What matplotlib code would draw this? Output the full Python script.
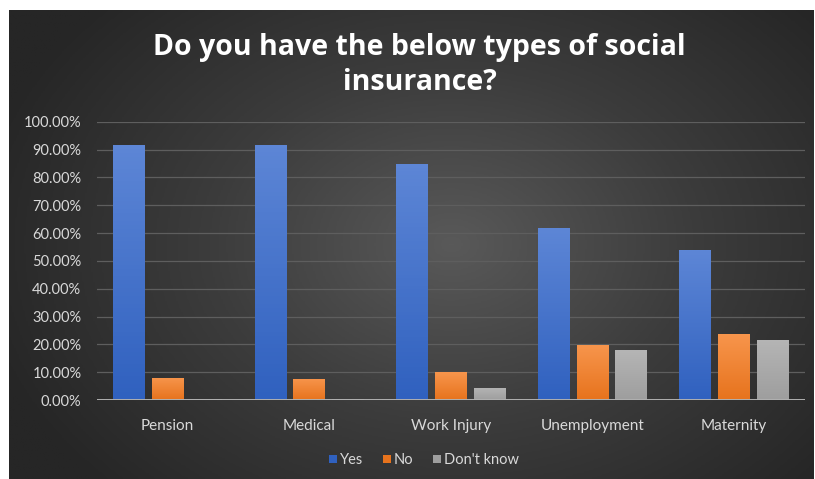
import numpy as np
import matplotlib
matplotlib.use("Agg")
import matplotlib.pyplot as plt
from matplotlib.colors import LinearSegmentedColormap
from matplotlib.lines import Line2D

categories = ["Pension", "Medical", "Work Injury", "Unemployment", "Maternity"]
yes = [91.5, 91.7, 84.7, 61.8, 53.8]
no = [8.0, 7.7, 10.0, 19.7, 23.7]
dont_know = [0.2, 0.2, 4.4, 17.8, 21.6]
series = ["Yes", "No", "Don't know"]
ticks = [0, 10, 20, 30, 40, 50, 60, 70, 80, 90, 100]

W, H = 815, 479
fig = plt.figure(figsize=(W / 100, H / 100), dpi=100)
fig.patch.set_facecolor("white")

# dark radial background panel
bg = fig.add_axes([9 / W, 0, (814 - 9) / W, (H - 10) / H])
bg.set_axis_off()
yy, xx = np.mgrid[0:1:300j, 0:1:500j]
r = np.sqrt(((xx - 0.55) / 0.6) ** 2 + ((yy - 0.5) / 0.75) ** 2)
bg_cmap = LinearSegmentedColormap.from_list("bg", ["#595959", "#3c3c3c", "#262626"])
bg.imshow(np.clip(r, 0, 1), cmap=bg_cmap, aspect="auto", extent=[0, 1, 0, 1])
bg.set_xlim(0, 1); bg.set_ylim(0, 1)

ax = fig.add_axes([96.7 / W, (H - 400) / H, (805 - 96.7) / W, (400 - 121.7) / H])
ax.set_facecolor("none")
ax.set_xlim(-0.5, len(categories) - 0.5)
ax.set_ylim(0, 100)

grads = [("#5d86d6", "#3061bf"), ("#f7954c", "#e7731d"), ("#b5b5b5", "#9e9e9e")]
bw, step = 0.224, 0.274
x = np.arange(len(categories))
for i, (vals, (ctop, cbot)) in enumerate(zip([yes, no, dont_know], grads)):
    cmap = LinearSegmentedColormap.from_list(f"g{i}", [cbot, ctop])
    bars = ax.bar(x + (i - 1) * step, vals, width=bw, color=ctop, zorder=3)
    for b in bars:
        b.set_facecolor("none")
        x0, y0 = b.get_x(), b.get_y()
        w, h = b.get_width(), b.get_height()
        if h <= 0:
            continue
        im = ax.imshow(np.linspace(0, 1, 64).reshape(-1, 1), cmap=cmap, origin="lower",
                       extent=[x0, x0 + w, y0, y0 + h], aspect="auto", zorder=3)
        im.set_clip_path(b)

ax.set_yticks(ticks)
ax.set_yticklabels([f"{t:.2f}%" for t in ticks])
ax.set_xticks(x)
ax.set_xticklabels(categories)
ax.grid(axis="y", color="#5e5e5e", lw=0.9, zorder=0)
ax.axhline(0, color="#b0b0b0", lw=1.4, zorder=4)
for s in ax.spines.values():
    s.set_visible(False)
ax.tick_params(axis="y", length=0, pad=11, labelsize=10.5, labelcolor="#d9d9d9")
ax.tick_params(axis="x", length=0, pad=14, labelsize=11, labelcolor="#d9d9d9")
for lbl in ax.get_xticklabels() + ax.get_yticklabels():
    lbl.set_family("Lato")

title_kw = dict(ha="center", va="center", color="white", fontsize=20.5,
                fontweight="bold", family="Open Sans")
fig.text(0.515, (H - 47) / H, "Do you have the below types of social", **title_kw)
fig.text(0.515, (H - 82) / H, "insurance?", **title_kw)

handles = [Line2D([], [], marker="s", ls="none", markersize=6, color=c[1], markeredgewidth=0)
           for c in grads]
fig.legend(handles, series, loc="center", bbox_to_anchor=(421 / W, (H - 460) / H), ncol=3,
           frameon=False, handletextpad=-0.2, handlelength=1.4, columnspacing=0.9,
           labelcolor="#d9d9d9", prop={"family": "Lato", "size": 10.5})

fig.savefig("out.png", dpi=100, facecolor=fig.get_facecolor())
